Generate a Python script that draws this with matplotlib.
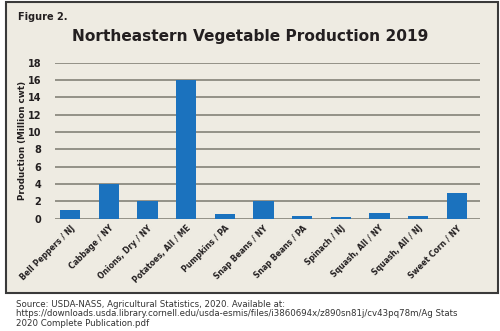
import matplotlib
matplotlib.use("Agg")
import matplotlib.pyplot as plt
from matplotlib.patches import Rectangle

crops = ["Bell Peppers / NJ", "Cabbage / NY", "Onions, Dry / NY", "Potatoes, All / ME",
         "Pumpkins / PA", "Snap Beans / NY", "Snap Beans / PA", "Spinach / NJ",
         "Squash, All / NY", "Squash, All / NJ", "Sweet Corn / NY"]
production = [1.0, 4.0, 2.0, 16.0, 0.55, 2.0, 0.35, 0.2, 0.7, 0.3, 3.0]
yticks = list(range(0, 19, 2))

source = ("Source: USDA-NASS, Agricultural Statistics, 2020. Available at:\n"
          "https://downloads.usda.library.cornell.edu/usda-esmis/files/i3860694x/z890sn81j/cv43pq78m/Ag Stats\n"
          "2020 Complete Publication.pdf")

panel = "#EEEBE2"
blue = "#1B72BE"
grid = "#8C8A80"
text = "#231F20"
font = "DejaVu Sans"

W, H = 500, 331
fig = plt.figure(figsize=(W / 100, H / 100), dpi=100)
fig.patch.set_facecolor("white")

# framed panel behind the chart
fig.patches.append(Rectangle((6 / W, 1 - 293 / H), 492 / W, 291 / H,
                             transform=fig.transFigure, facecolor=panel,
                             edgecolor="#3A3A3A", linewidth=1.5, zorder=-10))

fig.text(18 / W, 1 - 17 / H, "Figure 2.", fontsize=7, fontweight="bold",
         color=text, va="center", ha="left", family=font)
fig.text(250 / W, 1 - 36 / H, "Northeastern Vegetable Production 2019", fontsize=11.1,
         fontweight="bold", color=text, va="center", ha="center", family=font)

ax = fig.add_axes([55 / W, 1 - 218.7 / H, 425 / W, 156 / H])
ax.set_facecolor("none")
x = range(len(crops))
ax.bar(x, production, width=0.53, color=blue, zorder=3)
ax.set_xlim(-0.39, 10.6)
ax.set_ylim(0, 18)
ax.set_yticks(yticks)
ax.yaxis.grid(True, color=grid, linewidth=1.3, zorder=1)
ax.set_axisbelow(True)
for s in ax.spines.values():
    s.set_visible(False)
ax.tick_params(length=0, labelcolor=text)
ax.tick_params(axis="y", pad=10)
ax.set_xticks(list(x))
ax.set_xticklabels(crops, rotation=45, ha="right", rotation_mode="anchor",
                   fontsize=5.6, fontweight="bold", family=font)
for lab in ax.get_yticklabels():
    lab.set_fontsize(7)
    lab.set_fontweight("bold")
    lab.set_family(font)
ax.set_ylabel("Production (Million cwt)", fontsize=6.3, fontweight="bold",
              color=text, family=font)
ax.yaxis.set_label_coords(-0.066, 0.5)

fig.text(16 / W, 1 - 314 / H, source, fontsize=6.2, color="#333333", va="center",
         ha="left", family=font, linespacing=1.1)

fig.savefig("out.png", dpi=100)
